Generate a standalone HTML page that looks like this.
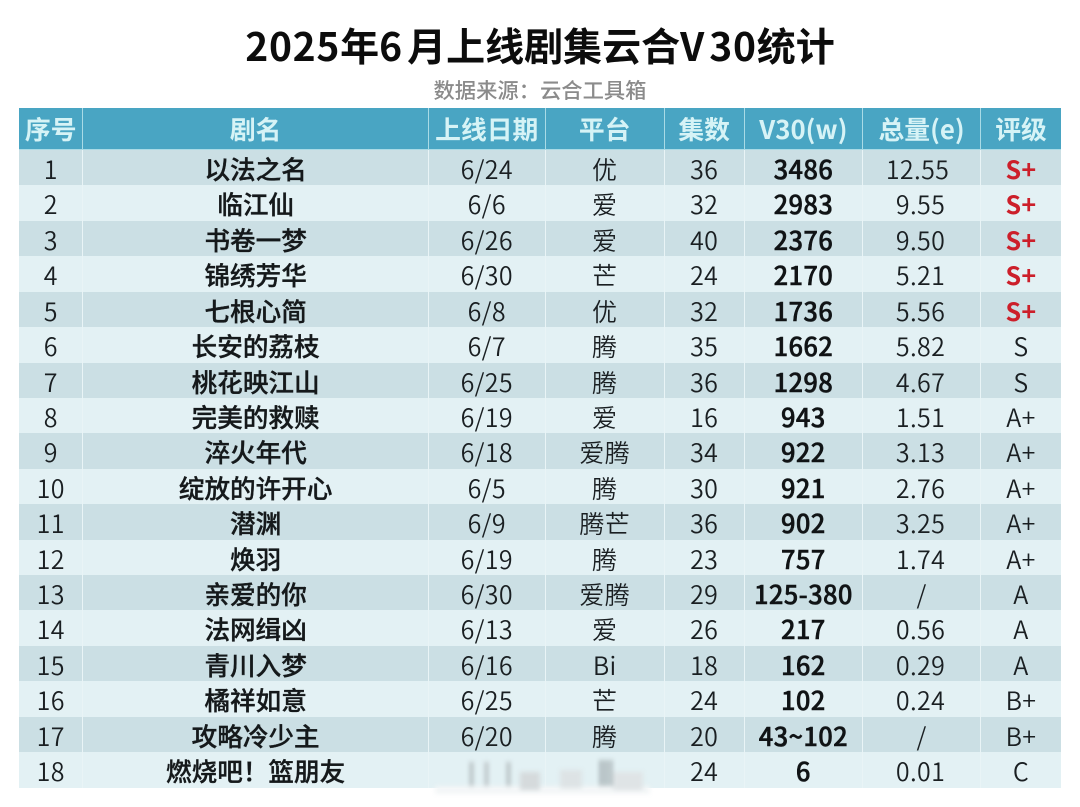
<!DOCTYPE html>
<html lang="zh-CN">
<head>
<meta charset="utf-8">
<title>2025年6月上线剧集云合V30统计</title>
<style>
html,body{margin:0;padding:0;background:#fff}
body{width:1080px;height:807px;position:relative;overflow:hidden;font-family:"Noto Sans CJK SC","Liberation Sans",sans-serif;color:#1a1f22}
#wrap{position:absolute;left:0;top:0;width:1080px;height:807px;filter:blur(.3px)}
#title{position:absolute;left:0;top:17px;width:1080px;text-align:center;font-size:39px;line-height:56px;font-weight:700;color:#0c0c0c}
#title span{letter-spacing:.7px}
#title b{font-weight:700;display:inline-block}
#sub{position:absolute;left:0;top:74px;width:1080px;text-align:center;font-size:21.3px;line-height:32px;font-weight:500;color:#8b8b8b}
#tbl{position:absolute;left:19px;top:108px;width:1042px}
.r{display:flex;height:35.43px;box-sizing:border-box}
.r.h{height:42px;background:#49a5c3;color:#d6f3f6;font-weight:700;font-size:25.5px;border-bottom:1px solid #a9dbe6}
.r.o{background:#cbdfe4}
.r.e{background:#e3f1f4}
.c{box-sizing:border-box;text-align:center;border-right:1px solid #e9f4f6;font-size:25px;line-height:38.5px;white-space:nowrap;letter-spacing:.35px}
.h .c{font-size:25.8px;line-height:41px;border-right:1px solid #a9dbe6;letter-spacing:0}
.c:last-child{border-right:0}
.c1{width:64.5px}.c2{width:345.5px}.c3{width:117px}.c4{width:119px}.c5{width:80px}.c6{width:118.5px}.c7{width:118px}.c8{width:80px}
.n{font-weight:500;color:#15191b;font-size:25.6px;letter-spacing:0;-webkit-text-stroke:.35px #15191b}
.b{font-weight:500;color:#101315;-webkit-text-stroke:.5px #101315;font-size:25.5px}
.r .c3,.r .c1,.r .c4,.r .c5,.r .c7,.r .c8{font-weight:350}
.h .c{font-weight:700!important}
.p{color:#cc1f2a!important;font-weight:700!important}
.t{position:relative;left:-1px}
.t2{position:relative;left:-4px}
#mosaic{position:absolute;left:435px;top:758px;width:215px;height:36px;filter:blur(2.5px)}
#mosaic i{position:absolute;display:block}
</style>
</head>
<body>
<div id="wrap">
<div id="title"><span>2025</span>年<b style="margin-right:5px">6</b>月上线剧集云合<b style="margin-right:5px">V</b><span>30</span>统计</div>
<div id="sub">数据来源：云合工具箱</div>
<div id="tbl">
<div class="r h"><div class="c c1">序号</div><div class="c c2">剧名</div><div class="c c3">上线日期</div><div class="c c4">平台</div><div class="c c5">集数</div><div class="c c6">V30(w)</div><div class="c c7">总量(e)</div><div class="c c8">评级</div></div>
<div class="r o"><div class="c c1">1</div><div class="c c2 n">以法之名</div><div class="c c3">6/24</div><div class="c c4">优</div><div class="c c5">36</div><div class="c c6 b">3486</div><div class="c c7"><span class="t2">12.55</span></div><div class="c c8 p">S+</div></div>
<div class="r e"><div class="c c1">2</div><div class="c c2 n">临江仙</div><div class="c c3">6/6</div><div class="c c4">爱</div><div class="c c5">32</div><div class="c c6 b">2983</div><div class="c c7"><span class="t">9.55</span></div><div class="c c8 p">S+</div></div>
<div class="r o"><div class="c c1">3</div><div class="c c2 n">书卷一梦</div><div class="c c3">6/26</div><div class="c c4">爱</div><div class="c c5">40</div><div class="c c6 b">2376</div><div class="c c7"><span class="t">9.50</span></div><div class="c c8 p">S+</div></div>
<div class="r e"><div class="c c1">4</div><div class="c c2 n">锦绣芳华</div><div class="c c3">6/30</div><div class="c c4">芒</div><div class="c c5">24</div><div class="c c6 b">2170</div><div class="c c7"><span class="t">5.21</span></div><div class="c c8 p">S+</div></div>
<div class="r o"><div class="c c1">5</div><div class="c c2 n">七根心简</div><div class="c c3">6/8</div><div class="c c4">优</div><div class="c c5">32</div><div class="c c6 b">1736</div><div class="c c7"><span class="t">5.56</span></div><div class="c c8 p">S+</div></div>
<div class="r e"><div class="c c1">6</div><div class="c c2 n">长安的荔枝</div><div class="c c3">6/7</div><div class="c c4">腾</div><div class="c c5">35</div><div class="c c6 b">1662</div><div class="c c7"><span class="t">5.82</span></div><div class="c c8">S</div></div>
<div class="r o"><div class="c c1">7</div><div class="c c2 n">桃花映江山</div><div class="c c3">6/25</div><div class="c c4">腾</div><div class="c c5">36</div><div class="c c6 b">1298</div><div class="c c7"><span class="t">4.67</span></div><div class="c c8">S</div></div>
<div class="r e"><div class="c c1">8</div><div class="c c2 n">完美的救赎</div><div class="c c3">6/19</div><div class="c c4">爱</div><div class="c c5">16</div><div class="c c6 b">943</div><div class="c c7"><span class="t">1.51</span></div><div class="c c8">A+</div></div>
<div class="r o"><div class="c c1">9</div><div class="c c2 n">淬火年代</div><div class="c c3">6/18</div><div class="c c4">爱腾</div><div class="c c5">34</div><div class="c c6 b">922</div><div class="c c7"><span class="t">3.13</span></div><div class="c c8">A+</div></div>
<div class="r e"><div class="c c1">10</div><div class="c c2 n">绽放的许开心</div><div class="c c3">6/5</div><div class="c c4">腾</div><div class="c c5">30</div><div class="c c6 b">921</div><div class="c c7"><span class="t">2.76</span></div><div class="c c8">A+</div></div>
<div class="r o"><div class="c c1">11</div><div class="c c2 n">潜渊</div><div class="c c3">6/9</div><div class="c c4">腾芒</div><div class="c c5">36</div><div class="c c6 b">902</div><div class="c c7"><span class="t">3.25</span></div><div class="c c8">A+</div></div>
<div class="r e"><div class="c c1">12</div><div class="c c2 n">焕羽</div><div class="c c3">6/19</div><div class="c c4">腾</div><div class="c c5">23</div><div class="c c6 b">757</div><div class="c c7"><span class="t">1.74</span></div><div class="c c8">A+</div></div>
<div class="r o"><div class="c c1">13</div><div class="c c2 n">亲爱的你</div><div class="c c3">6/30</div><div class="c c4">爱腾</div><div class="c c5">29</div><div class="c c6 b">125-380</div><div class="c c7">/</div><div class="c c8">A</div></div>
<div class="r e"><div class="c c1">14</div><div class="c c2 n">法网缉凶</div><div class="c c3">6/13</div><div class="c c4">爱</div><div class="c c5">26</div><div class="c c6 b">217</div><div class="c c7"><span class="t">0.56</span></div><div class="c c8">A</div></div>
<div class="r o"><div class="c c1">15</div><div class="c c2 n">青川入梦</div><div class="c c3">6/16</div><div class="c c4">Bi</div><div class="c c5">18</div><div class="c c6 b">162</div><div class="c c7"><span class="t">0.29</span></div><div class="c c8">A</div></div>
<div class="r e"><div class="c c1">16</div><div class="c c2 n">橘祥如意</div><div class="c c3">6/25</div><div class="c c4">芒</div><div class="c c5">24</div><div class="c c6 b">102</div><div class="c c7"><span class="t">0.24</span></div><div class="c c8">B+</div></div>
<div class="r o"><div class="c c1">17</div><div class="c c2 n">攻略冷少主</div><div class="c c3">6/20</div><div class="c c4">腾</div><div class="c c5">20</div><div class="c c6 b">43~102</div><div class="c c7">/</div><div class="c c8">B+</div></div>
<div class="r e"><div class="c c1">18</div><div class="c c2 n">燃烧吧！篮朋友</div><div class="c c3"></div><div class="c c4"></div><div class="c c5">24</div><div class="c c6 b">6</div><div class="c c7"><span class="t">0.01</span></div><div class="c c8">C</div></div>
</div>
<div id="mosaic">
<i style="left:0;top:28px;width:215px;height:8px;background:#f3f6f7"></i>
<i style="left:35px;top:4px;width:3px;height:24px;background:#aab2b5"></i>
<i style="left:50px;top:4px;width:3px;height:24px;background:#b0b7ba"></i>
<i style="left:72px;top:4px;width:3px;height:24px;background:#aab2b5"></i>
<i style="left:85px;top:14px;width:20px;height:18px;background:#d5dadc"></i>
<i style="left:125px;top:12px;width:22px;height:18px;background:#dde3e5"></i>
<i style="left:165px;top:2px;width:2px;height:26px;background:#7e878a"></i>
<i style="left:170px;top:2px;width:2px;height:26px;background:#7e878a"></i>
<i style="left:175px;top:2px;width:2px;height:26px;background:#8b9396"></i>
<i style="left:178px;top:14px;width:30px;height:18px;background:#dfe4e6"></i>
</div>
</div>
</body>
</html>
